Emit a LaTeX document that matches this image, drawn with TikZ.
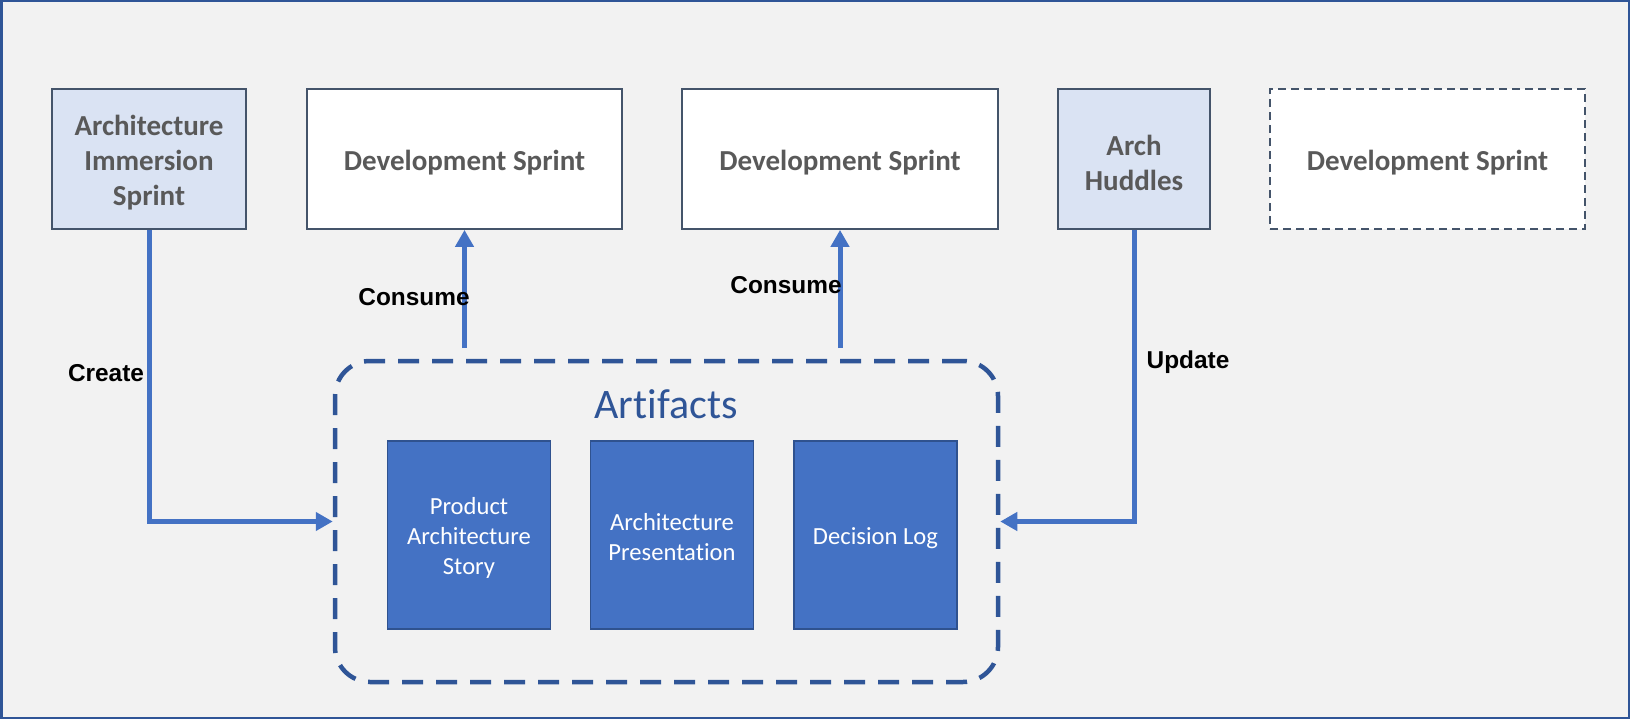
\documentclass[tikz,border=0pt]{standalone}
\usepackage{fontspec}
\setmainfont{Carlito}[Ligatures=NoCommon]
\newfontfamily\labelfont{Liberation Sans}
\usetikzlibrary{arrows.meta}
\definecolor{bgc}{HTML}{F2F2F2}
\definecolor{framec}{HTML}{2F5597}
\definecolor{slate}{HTML}{44546A}
\definecolor{lightblue}{HTML}{DAE3F3}
\definecolor{accent}{HTML}{4472C4}
\definecolor{accentdark}{HTML}{2F528F}
\definecolor{graytext}{HTML}{595959}
\tikzset{
  topbox/.style={draw=slate, line width=1.8pt, minimum height=140pt, inner sep=0pt},
  toptext/.style={align=center, text=graytext, font=\fontsize{29}{35}\selectfont\bfseries, inner sep=0pt},
  artbox/.style={draw=accentdark, line width=1.8pt, fill=accent, minimum width=163pt,
    minimum height=188pt, inner sep=0pt},
  arttext/.style={align=center, text=white, font=\fontsize{24.6}{30}\selectfont, inner sep=0pt},
  conn/.style={draw=accent, line width=5pt, -{Triangle[length=17pt,width=18pt]}},
  lbl/.style={font=\labelfont\fontsize{24.4}{28}\selectfont\bfseries, text=black, inner sep=0pt},
}
\begin{document}
\begin{tikzpicture}[x=1pt,y=-1pt]
\useasboundingbox (0,0) rectangle (1630,719);
\path[fill=bgc, draw=framec, line width=2.5pt] (1.25,1.25) rectangle (1628.75,717.75);
% top row
\node[topbox, fill=lightblue, minimum width=194pt] (ais) at (149,159) {};
\node[topbox, fill=white, minimum width=315pt] (dev1) at (464.5,159) {};
\node[topbox, fill=white, minimum width=316pt] (dev2) at (840,159) {};
\node[topbox, fill=lightblue, minimum width=152pt] (hud) at (1134,159) {};
\node[topbox, fill=white, dash pattern=on 8pt off 5pt, minimum width=315pt] (dev3) at (1427.5,159) {};
\node[toptext] (aist) at ([yshift=-4pt]ais.center) {Architecture\\Immersion\\Sprint};
\node[toptext] (dev1t) at ([yshift=-4pt]dev1.center) {Development Sprint};
\node[toptext] (dev2t) at ([yshift=-4pt]dev2.center) {Development Sprint};
\node[toptext] (hudt) at ([yshift=-4pt]hud.center) {Arch\\Huddles};
\node[toptext] (dev3t) at ([yshift=-4pt]dev3.center) {Development Sprint};
% artifacts container
\node[draw=framec, line width=4.5pt, dash pattern=on 21pt off 13pt, rounded corners=35pt,
  minimum width=663pt, minimum height=321pt, inner sep=0pt] (art) at (666.5,521.5) {};
\node[text=framec, font=\fontsize{42}{50}\selectfont, inner sep=0pt] (arttitle) at (666,404) {Artifacts};
\node[artbox] (pas) at (469,535) {};
\node[artbox] (ap) at (672,535) {};
\node[artbox] (dl) at (875.5,535) {};
\node[arttext] (past) at ([yshift=-3pt]pas.center) {Product\\Architecture\\Story};
\node[arttext] (apt) at ([yshift=-2pt]ap.center) {Architecture\\Presentation};
\node[arttext] (dlt) at ([yshift=-3pt]dl.center) {Decision Log};
% connectors
\coordinate (c1) at (464.5,348);
\coordinate (c2) at (840,348);
\draw[conn] (ais.south) |- (art.west);
\draw[conn] (c1) -- (dev1.south);
\draw[conn] (c2) -- (dev2.south);
\draw[conn] (hud.south) |- (art.east);
% labels
\node[lbl] (lcreate) at (106,373) {Create};
\node[lbl] (lcons1) at (414,297) {Consume};
\node[lbl] (lcons2) at (786,285) {Consume};
\node[lbl] (lupdate) at (1188,362) {Update};
\end{tikzpicture}
\end{document}
